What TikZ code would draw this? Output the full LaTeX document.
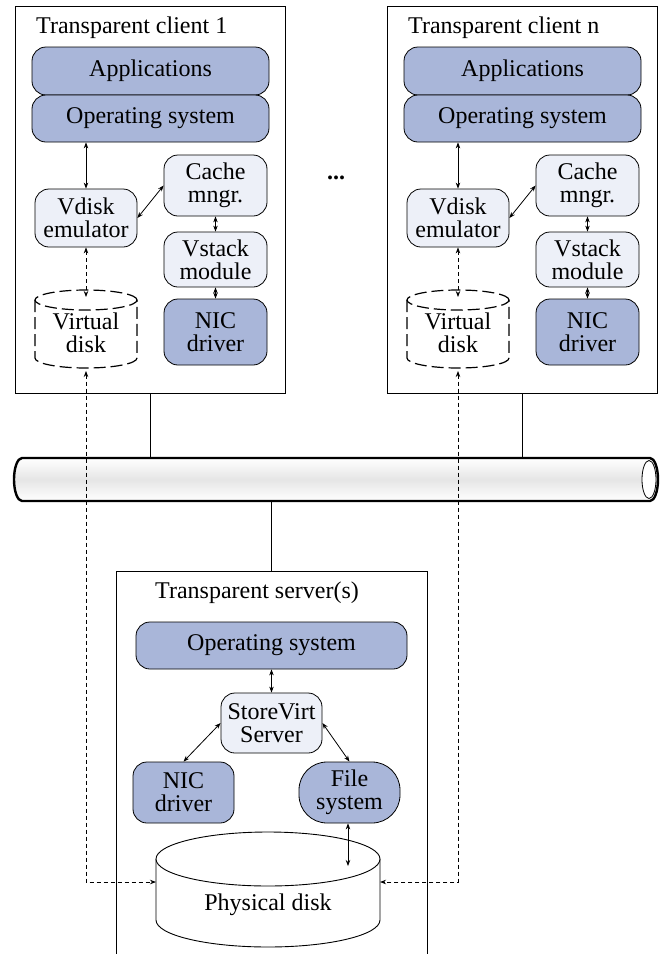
\documentclass[tikz,border=0pt]{standalone}
\usepackage{fontspec}
\setmainfont{Liberation Serif}
\usetikzlibrary{arrows.meta}
\definecolor{dk}{HTML}{A9B6D9}
\definecolor{lt}{HTML}{EDF0F8}
\begin{document}
\begin{tikzpicture}[x=1pt,y=1pt,
 txt/.style={font=\fontsize{24}{23}\selectfont},
 blk/.style={draw, line width=0.8pt, rounded corners=14pt, align=center, inner sep=0pt, txt},
 dkbox/.style={blk, fill=dk},
 ltbox/.style={blk, fill=lt},
 frame/.style={draw, line width=0.8pt},
 arr/.style={line width=0.8pt, {Stealth[length=6pt,width=4.5pt]}-{Stealth[length=6pt,width=4.5pt]}},
 darr/.style={arr, dash pattern=on 4pt off 3pt},
 cyl/.style={line width=1.2pt, dash pattern=on 12pt off 5pt},
 ]
\useasboundingbox (0,0) rectangle (660,-954);

% ---------- clients ----------
\foreach \dx/\s/\n in {0/a/1, 372/b/n}{
  \node[frame, minimum width=270, minimum height=387, inner sep=0pt] (cl\s) at (150+\dx,-199.5) {};
  \node[txt, anchor=base west, inner sep=0pt] (ti\s) at (36+\dx,-33) {Transparent client \n};
  \node[dkbox, minimum width=237, minimum height=48] (app\s) at (150.5+\dx,-71) {Applications};
  \node[dkbox, minimum width=237, minimum height=47] (os\s) at (150.5+\dx,-118.5) {Operating system};
  \node[ltbox, minimum width=102, minimum height=58] (vde\s) at (86+\dx,-218) {Vdisk\\emulator};
  \node[ltbox, minimum width=103, minimum height=61] (cm\s) at (215.5+\dx,-185.5) {Cache\\mngr.};
  \node[ltbox, minimum width=103, minimum height=55] (vs\s) at (215.5+\dx,-259.5) {Vstack\\module};
  \node[dkbox, minimum width=103, minimum height=66] (nic\s) at (215.5+\dx,-332) {NIC\\driver};
  % virtual disk (dashed cylinder)
  \node[txt, align=center, inner sep=0pt, minimum width=102, minimum height=78] (vd\s) at (86+\dx,-333) {Virtual\\disk};
  \draw[cyl] (86+\dx,-300) ellipse [x radius=51, y radius=10];
  \draw[cyl] (35+\dx,-300) -- (35+\dx,-358)
     arc[start angle=180, end angle=360, x radius=51, y radius=10] -- (137+\dx,-300);
  \coordinate (vdtop\s) at (86+\dx,-297);
  \coordinate (vdbot\s) at (86+\dx,-371);
  % arrows
  \draw[arr] (os\s.south -| vde\s.north) -- (vde\s.north);
  \draw[arr] (vde\s.east) -- (cm\s.west);
  \draw[arr] (cm\s.south) -- (vs\s.north);
  \draw[arr] (vs\s.south) -- (nic\s.north);
  \draw[darr] (vde\s.south) -- (vdtop\s);
}

\node[txt, font=\fontsize{24}{23}\selectfont\bfseries] (dots) at (336,-178) {...};

% ---------- server ----------
\coordinate (srvtop) at (271.5,-571);
\draw[line width=0.8pt] (116,-960) -- (116,-571) -- (427,-571) -- (427,-960);
\node[txt, anchor=base west, inner sep=0pt] (tis) at (155,-598) {Transparent server(s)};
\node[dkbox, minimum width=271, minimum height=47] (sos) at (271.5,-645.5) {Operating system};
\node[ltbox, minimum width=101, minimum height=60] (sv) at (271.5,-723) {StoreVirt\\Server};
\node[dkbox, minimum width=101, minimum height=61] (snic) at (183.5,-792.5) {NIC\\driver};
\node[dkbox, rounded corners=28pt, minimum width=101, minimum height=61] (sfs) at (349.5,-792.5) {File\\system};
% physical disk
\draw[line width=0.9pt, fill=white] (156,-859) -- (156,-920)
   arc[start angle=180, end angle=360, x radius=112, y radius=27] -- (380,-859);
\draw[line width=0.9pt, fill=white] (268,-859) ellipse [x radius=112, y radius=27];
\node[txt, inner sep=0pt] (pd) at (268,-905) {Physical disk};
\coordinate (pdL) at (156,-882);
\coordinate (pdR) at (380,-882);
\coordinate (pdtop) at (348,-866);

\draw[arr] (sos.south) -- (sv.north);
\draw[arr] (sv.west) -- (snic.north);
\draw[arr] (sv.east) -- (sfs.north);
\draw[arr] (sfs.south -| pdtop) -- (pdtop);

% ---------- bus (pipe) ----------
\node[minimum width=645, minimum height=43, inner sep=0pt] (bus) at (336.5,-479.5) {};
\shade[top color=white, bottom color=white, middle color=black!10]
  (22,-458) -- (650,-458) arc[start angle=90, end angle=-90, x radius=8, y radius=21.5]
  -- (22,-501) arc[start angle=270, end angle=90, x radius=8, y radius=21.5] -- cycle;
\draw[line width=2.4pt]
  (22,-458) -- (650,-458) arc[start angle=90, end angle=-90, x radius=8, y radius=21.5]
  -- (22,-501) arc[start angle=270, end angle=90, x radius=8, y radius=21.5] -- cycle;
\draw[line width=0.8pt, fill=white] (649,-479.5) ellipse [x radius=7, y radius=19];

% connections to bus
\draw[line width=0.8pt] (cla.south) -- (cla.south |- bus.north);
\draw[line width=0.8pt] (clb.south) -- (clb.south |- bus.north);
\draw[line width=0.8pt] (bus.south -| srvtop) -- (srvtop);

% dashed links virtual disk -> physical disk
\draw[darr] (vdbota) |- (pdL);
\draw[darr] (vdbotb) |- (pdR);
\end{tikzpicture}
\end{document}
